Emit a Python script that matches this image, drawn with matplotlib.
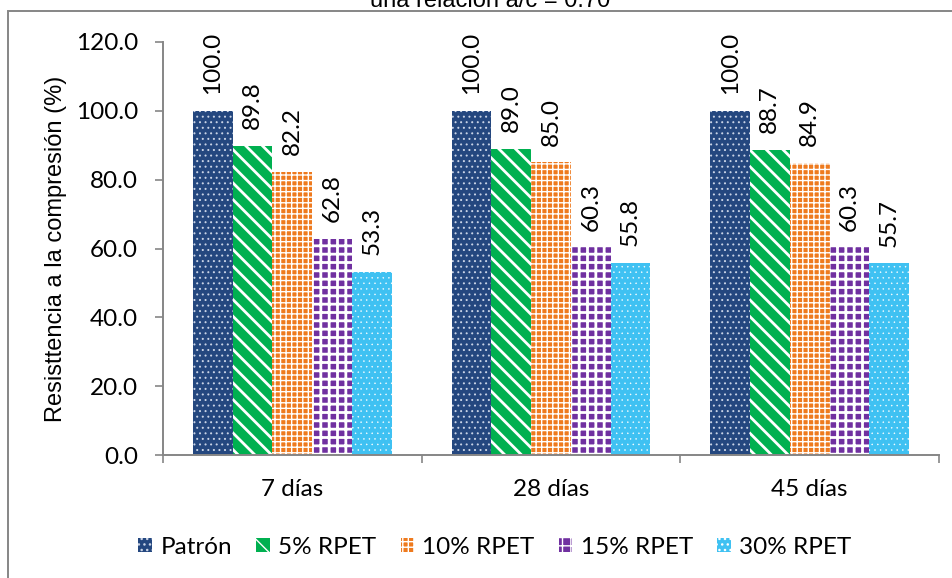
import matplotlib

matplotlib.use("Agg")

import matplotlib.pyplot as plt
import numpy as np
from matplotlib.patches import Rectangle

categories = ["7 días", "28 días", "45 días"]
series_names = ["Patrón", "5% RPET", "10% RPET", "15% RPET", "30% RPET"]
patron = [100.0, 100.0, 100.0]
rpet_5 = [89.8, 89.0, 88.7]
rpet_10 = [82.2, 85.0, 84.9]
rpet_15 = [62.8, 60.3, 60.3]
rpet_30 = [53.3, 55.8, 55.7]
y_ticks = [0, 20, 40, 60, 80, 100, 120]

series = [patron, rpet_5, rpet_10, rpet_15, rpet_30]
# (face, hatch colour, hatch, hatch linewidth)
styles = [
    ("#24477f", "#c9d3e6", "...", 0.7),
    ("#00b050", "white", "\\\\", 2.0),
    ("#ee7a1e", "white", "+++", 1.0),
    ("#7030a0", "white", "++", 2.0),
    ("#3fc1f2", "white", "...", 0.3),
]

TICK_FONT = "Lato"
ARIAL = "Liberation Sans"
GRAY = "#868686"
FS = 17.5

fig = plt.figure(figsize=(9.53, 5.78), dpi=100)
ax = fig.add_axes([163 / 953, 1 - 455 / 578, 776 / 953, 413 / 578])

x = np.arange(len(categories))
width = 1 / 6.5
handles = []
for i, (vals, name, (face, hcol, hatch, hlw)) in enumerate(zip(series, series_names, styles)):
    with plt.rc_context({"hatch.linewidth": hlw}):
        bars = ax.bar(x + (i - 2) * width, vals, width, color=face, edgecolor=hcol,
                      hatch=hatch, linewidth=0, label=name)
    for p in bars:
        if hasattr(p, "set_hatch_linewidth"):
            p.set_hatch_linewidth(hlw)
    handles.append(bars)
    for xi, v in zip(x + (i - 2) * width, vals):
        ax.annotate(f"{v:.1f}", (xi, v), xytext=(0, 12), textcoords="offset points",
                    rotation=90, ha="center", va="bottom", fontsize=FS, family=TICK_FONT)

ax.set_xlim(-0.5, 2.5)
ax.set_ylim(0, 120)
ax.set_yticks(y_ticks)
ax.set_yticklabels([f"{t:.1f}" for t in y_ticks], fontsize=FS, family=TICK_FONT)
ax.set_xticks(x)
ax.set_xticklabels(categories, fontsize=FS, family=TICK_FONT)
ax.set_xticks([-0.5, 0.5, 1.5, 2.5], minor=True)
ax.tick_params(axis="x", which="major", length=0, pad=17)
ax.tick_params(axis="x", which="minor", length=6, color=GRAY, width=1.2)
ax.tick_params(axis="y", length=6, color=GRAY, width=1.2, pad=12)
for side in ["top", "right"]:
    ax.spines[side].set_visible(False)
for side in ["left", "bottom"]:
    ax.spines[side].set_color(GRAY)
    ax.spines[side].set_linewidth(1.4)

ax.set_ylabel("Resisttencia a la compresión (%)", fontsize=17, family=ARIAL, labelpad=6)

fig.text(490 / 953, 1 - 7 / 578, "una relación a/c = 0.70", ha="center", va="baseline",
         fontsize=17, family=ARIAL)

fig.patches.append(Rectangle((8 / 953, -0.1), 1.2, 1 - 11 / 578 + 0.1, transform=fig.transFigure,
                             fill=False, edgecolor=GRAY, linewidth=1.4))

ax.legend(handles, series_names, loc="center", bbox_to_anchor=(495 / 953, 1 - 547 / 578),
          bbox_transform=fig.transFigure, ncol=5, frameon=False,
          prop={"family": TICK_FONT, "size": FS}, handlelength=0.55, handleheight=0.55,
          handletextpad=0.35, columnspacing=1.0)

fig.savefig("out.png", dpi=100)
